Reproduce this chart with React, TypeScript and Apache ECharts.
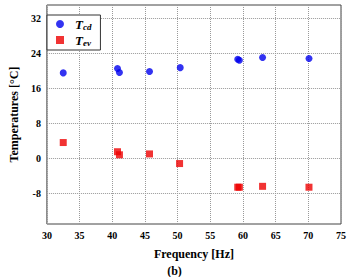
import React, { useEffect, useRef } from "react";
import * as echarts from "echarts";

// Frequency [Hz] for each measurement
const freqCd = [32.5, 40.8, 41.1, 45.7, 50.4, 59.2, 59.45, 63.0, 70.1];
const tempCd = [19.5, 20.5, 19.6, 19.8, 20.7, 22.6, 22.4, 23.0, 22.8];
const freqEv = [32.5, 40.8, 41.1, 45.7, 50.3, 59.2, 59.45, 63.0, 70.1];
const tempEv = [3.6, 1.5, 0.8, 1.0, -1.2, -6.6, -6.6, -6.4, -6.6];
const yTicks = [-8, 0, 8, 16, 24, 32];

const FONT = "Liberation Serif";

export default function App() {
  const ref = useRef<HTMLDivElement>(null);
  useEffect(() => {
    if (!ref.current) return;
    const chart = echarts.init(ref.current, undefined, { renderer: "svg" });
    const dotted = { type: [1, 1] as number[], color: "#999", width: 1 };
    chart.setOption({
      animation: false,
      textStyle: { fontFamily: FONT },
      grid: { left: 33, right: 7, top: 5, bottom: 53, show: true, borderColor: "#444", borderWidth: 1 },
      legend: {
        left: 47,
        top: 15,
        orient: "vertical",
        backgroundColor: "#fff",
        borderColor: "#333",
        borderWidth: 1,
        padding: [2, 9, 3, 9],
        itemGap: 2,
        itemWidth: 8,
        itemHeight: 8,
        data: [
          { name: "cd", icon: "circle" },
          { name: "ev", icon: "rect" },
        ],
        formatter: (n: string) => `{t|T}{s|${n}}`,
        textStyle: {
          rich: {
            t: { fontFamily: FONT, fontStyle: "italic", fontWeight: "bold", fontSize: 13, lineHeight: 14, color: "#000", padding: [0, 0, 0, 6] },
            s: { fontFamily: FONT, fontStyle: "italic", fontWeight: "bold", fontSize: 9, lineHeight: 14, color: "#000", verticalAlign: "bottom", padding: [5, 0, 0, 0] },
          },
        },
      },
      xAxis: {
        type: "value",
        min: 30,
        max: 75,
        interval: 5,
        name: "Frequency [Hz]",
        nameLocation: "middle",
        nameGap: 24,
        nameTextStyle: { fontFamily: FONT, fontWeight: "bold", fontSize: 12, color: "#000" },
        axisLine: { show: false },
        axisTick: { show: false },
        axisLabel: { fontFamily: FONT, fontWeight: "bold", fontSize: 10, color: "#000", margin: 6 },
        splitLine: { show: true, lineStyle: dotted },
      },
      yAxis: {
        type: "value",
        min: -15,
        max: 35,
        name: "Temperatures [°C]",
        nameLocation: "middle",
        nameGap: 22,
        nameTextStyle: { fontFamily: FONT, fontWeight: "bold", fontSize: 12, color: "#000" },
        axisLine: { show: false },
        axisTick: { show: false, customValues: yTicks },
        axisLabel: { fontFamily: FONT, fontWeight: "bold", fontSize: 10, color: "#000", margin: 6, customValues: yTicks },
        splitLine: { show: true, lineStyle: dotted },
      },
      graphic: [
        {
          type: "text",
          left: "center",
          top: 265,
          style: { text: "(b)", fontFamily: FONT, fontWeight: "bold", fontSize: 12, fill: "#000" },
        },
      ],
      series: [
        {
          name: "cd",
          type: "scatter",
          symbol: "circle",
          symbolSize: 7,
          itemStyle: { color: "#0000ee" },
          data: freqCd.map((f, i) => [f, tempCd[i]]),
        },
        {
          name: "ev",
          type: "scatter",
          symbol: "rect",
          symbolSize: 7,
          itemStyle: { color: "#ee0000" },
          data: freqEv.map((f, i) => [f, tempEv[i]]),
        },
      ],
    });
    return () => chart.dispose();
  }, []);
  return <div ref={ref} style={{ width: 349, height: 277, position: "absolute", left: 0, top: 0, background: "#fff" }} />;
}
